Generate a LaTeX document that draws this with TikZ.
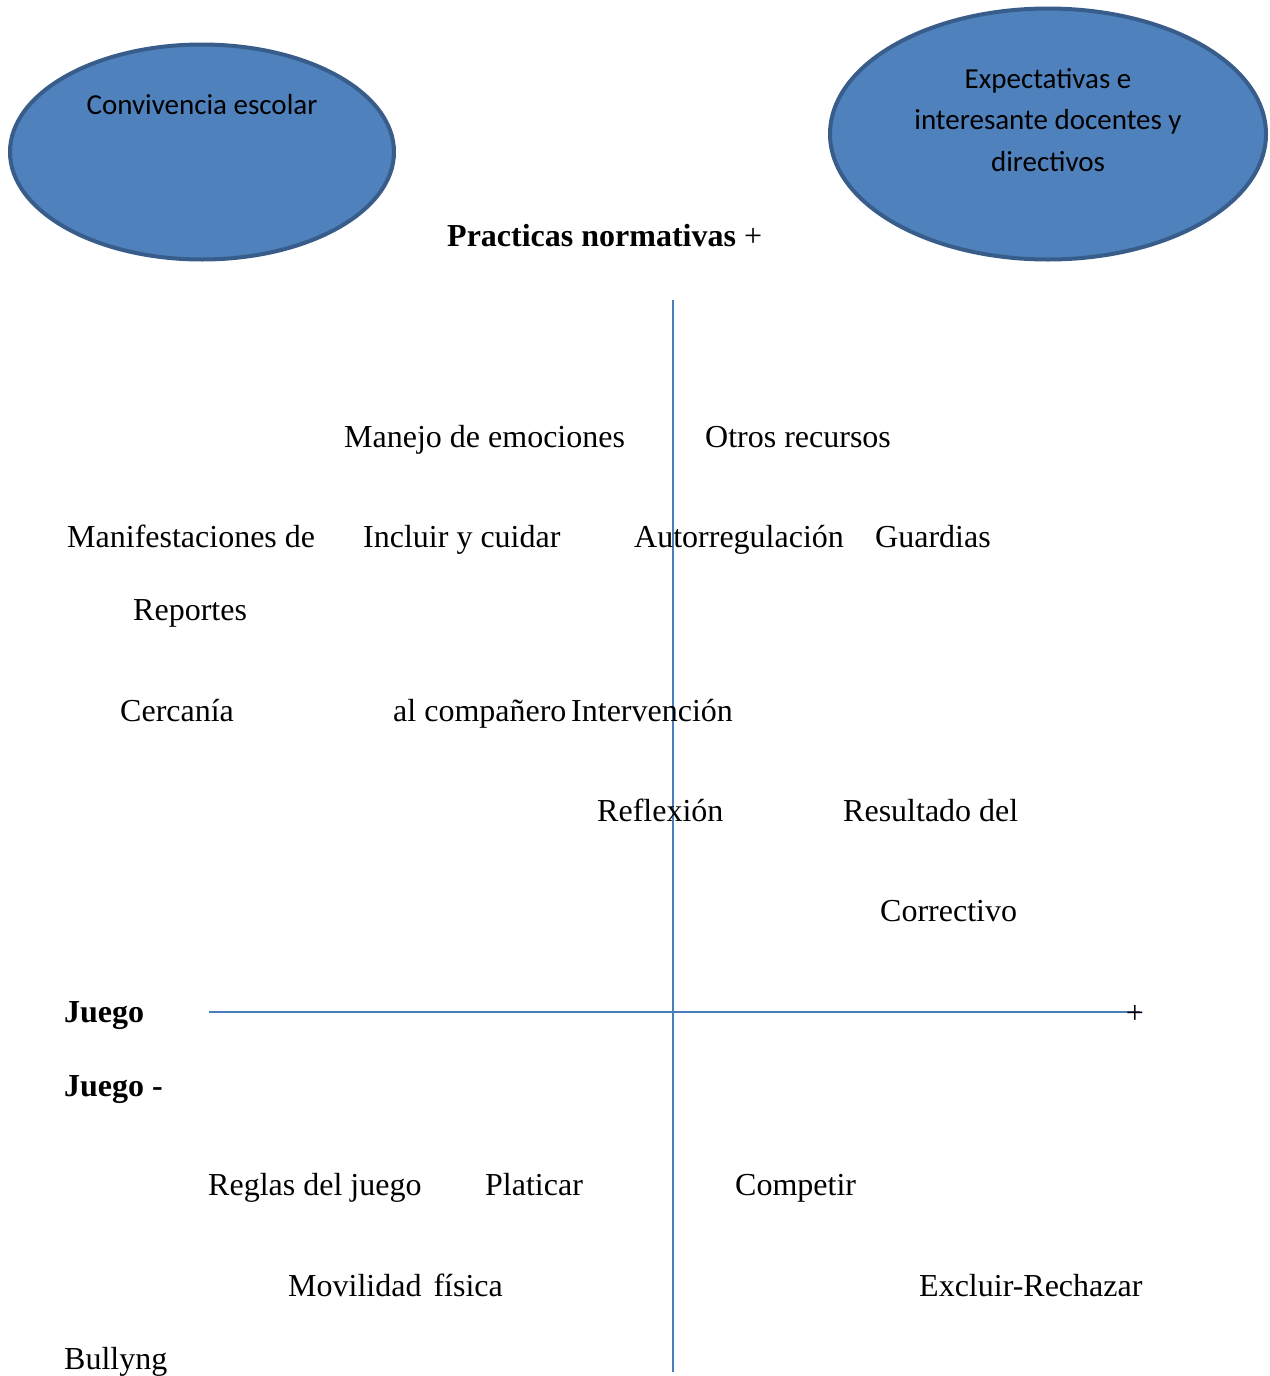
\documentclass[tikz,border=0pt]{standalone}
\usepackage{fontspec}
\setmainfont{Liberation Serif}
\newfontfamily\calfont{Carlito}
\usetikzlibrary{shapes.geometric}
\definecolor{axisblue}{HTML}{4A7EBB}
\definecolor{ellfill}{HTML}{4F81BD}
\definecolor{elldraw}{HTML}{385D8A}
\tikzset{
  lbl/.style={anchor=base west, inner sep=0pt, font=\fontsize{32}{38}\selectfont},
  bub/.style={ellipse, fill=ellfill, draw=elldraw, line width=4pt, inner sep=0pt},
  bubtxt/.style={inner sep=0pt, align=center, font=\calfont\fontsize{29}{41.5}\selectfont},
  axis/.style={draw=axisblue, line width=2pt}
}
\begin{document}
\begin{tikzpicture}[x=1pt,y=-1pt]
\useasboundingbox (0,0) rectangle (1269,1376);
% ellipses
\node[bub, minimum width=384pt, minimum height=215pt] (e1) at (202,152) {};
\node[bubtxt, anchor=center] (e1t) at (202,105) {Convivencia escolar};
\node[bub, minimum width=436pt, minimum height=251pt] (e2) at (1048,134) {};
\node[bubtxt, anchor=center] (e2t) at (1048,120) {Expectativas e\\interesante docentes y\\directivos};
% title
\node[lbl] (title) at (447,246) {\textbf{Practicas normativas} +};
% axes
\coordinate (vt) at (673,300);
\coordinate (vb) at (673,1372);
\coordinate (hl) at (209,1012);
\coordinate (hr) at (1140,1012);
\draw[axis] (vt) -- (vb);
\draw[axis] (hl) -- (hr);
\node[inner sep=0pt, font=\fontsize{32}{38}\selectfont] (plus) at (1135,1014) {+};
% labels
\node[lbl] (n1) at (344,447) {Manejo de emociones};
\node[lbl] (n2) at (705,447) {Otros recursos};
\node[lbl] (n3) at (67,547) {Manifestaciones de};
\node[lbl] (n4) at (363,547) {Incluir y cuidar};
\node[lbl] (n5) at (634,547) {Autorregulación};
\node[lbl] (n6) at (875,547) {Guardias};
\node[lbl] (n7) at (133,620) {Reportes};
\node[lbl] (n8) at (120,721) {Cercanía};
\node[lbl] (n9) at (393,721) {al compañero};
\node[lbl] (n10) at (571,721) {Intervención};
\node[lbl] (n11) at (597,821) {Reflexión};
\node[lbl] (n12) at (843,821) {Resultado del};
\node[lbl] (n13) at (880,921) {Correctivo};
\node[lbl] (n14) at (64,1022) {\textbf{Juego}};
\node[lbl] (n15) at (64,1096) {\textbf{Juego -}};
\node[lbl] (n16) at (208,1195) {Reglas del juego};
\node[lbl] (n17) at (485,1195) {Platicar};
\node[lbl] (n18) at (735,1195) {Competir};
\node[lbl] (n19) at (288,1296) {Movilidad\hspace{12pt}física};
\node[lbl] (n20) at (919,1296) {Excluir-Rechazar};
\node[lbl] (n21) at (64,1369) {Bullyng};
\end{tikzpicture}
\end{document}
